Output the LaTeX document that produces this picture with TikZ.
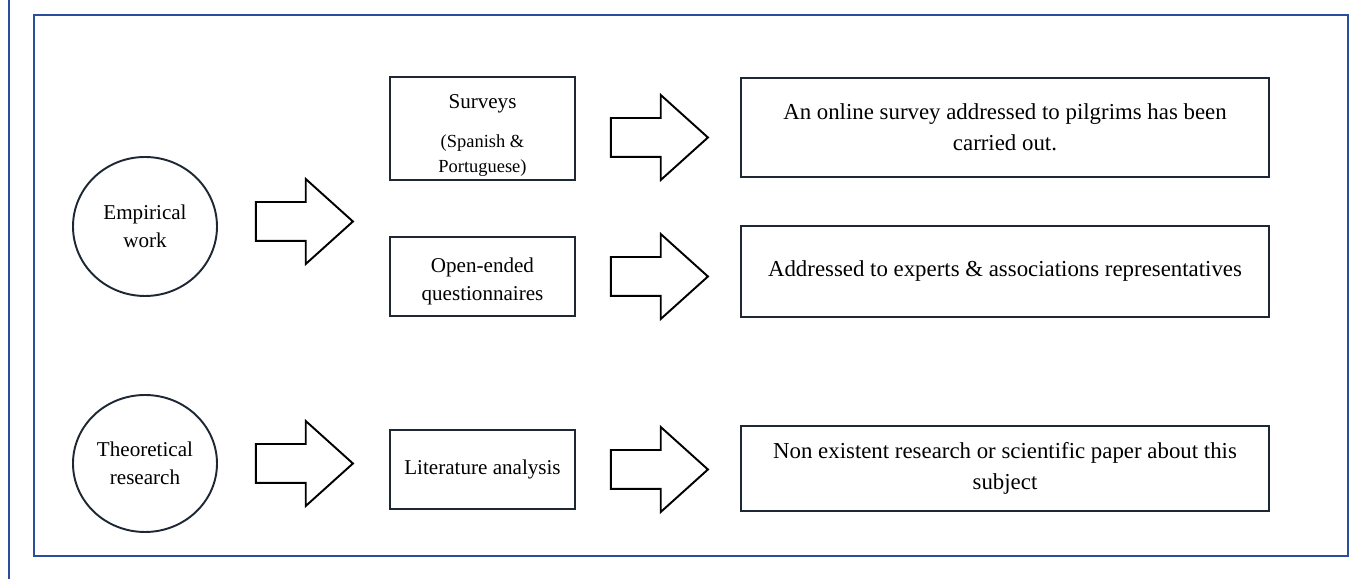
\documentclass[tikz,border=0pt]{standalone}
\usepackage{fontspec}
\setmainfont{Liberation Serif}
\usepackage{tikz}
\usetikzlibrary{shapes.geometric, shapes.arrows, positioning}
\definecolor{frameblue}{RGB}{44,76,158}
\definecolor{boxline}{RGB}{30,40,52}

\begin{document}
\begin{tikzpicture}[
    box/.style = {draw=boxline, line width=1.1pt, minimum width=3.7cm, align=center, font=\fontsize{12}{17}\selectfont},
    wide/.style = {draw=boxline, line width=1.1pt, minimum width=10.56cm, align=center, font=\fontsize{13}{17.5}\selectfont},
    oval/.style = {ellipse, draw=boxline, line width=1.1pt, minimum width=2.88cm, minimum height=2.78cm, inner sep=0pt, align=center, font=\fontsize{12}{16}\selectfont},
    fatarrow/.style = {single arrow, draw=black, line width=1.1pt, minimum height=1.94cm, single arrow head extend=0.46cm, single arrow tip angle=84, inner xsep=0pt, inner ysep=0.37cm}
  ]
    \useasboundingbox (0,0) rectangle (27.24,11.58);
    \draw[frameblue, line width=1.15pt] (0.186,0) -- (0.186,11.58);
    \draw[frameblue, line width=1.15pt] (0.686,0.46) rectangle (26.96,11.28);

    \node[oval] (emp) at (2.9,7.05) {Empirical\\work};
    \node[oval, minimum height=2.74cm] (theo) at (2.9,2.31) {Theoretical\\research};

    \node[box, minimum height=2.06cm, inner ysep=0pt] (surv) at (9.65,9.01) {\rule{0pt}{17.5pt}Surveys\\[5.2pt]{\fontsize{10.5}{14.2}\selectfont\begin{tabular}[t]{@{}c@{}}(Spanish \&\\Portuguese)\end{tabular}}};
    \node[box, minimum height=1.58cm, font=\fontsize{12}{16}\selectfont] (open) at (9.65,6.05) {\rule{0pt}{14pt}Open-ended\\questionnaires};
    \node[box, minimum height=1.58cm] (lit) at (9.65,2.19) {Literature analysis};

    \node[wide, minimum height=1.98cm] (online) at (20.1,9.03) {An online survey addressed to pilgrims has been\\carried out.};
    \node[wide, minimum height=1.82cm] (experts) at (20.1,6.15) {Addressed to experts \& associations representatives};
    \node[wide, minimum height=1.70cm] (nores) at (20.1,2.21) {Non existent research or scientific paper about this\\subject};

    \node[fatarrow, right=0.74cm of emp, yshift=0.1cm] (aemp) {};
    \node[fatarrow, right=0.74cm of theo] (atheo) {};
    \node[fatarrow, right=0.68cm of surv, yshift=-0.18cm] (asurv) {};
    \node[fatarrow, right=0.68cm of open] (aopen) {};
    \node[fatarrow, right=0.68cm of lit] (alit) {};
\end{tikzpicture}
\end{document}
